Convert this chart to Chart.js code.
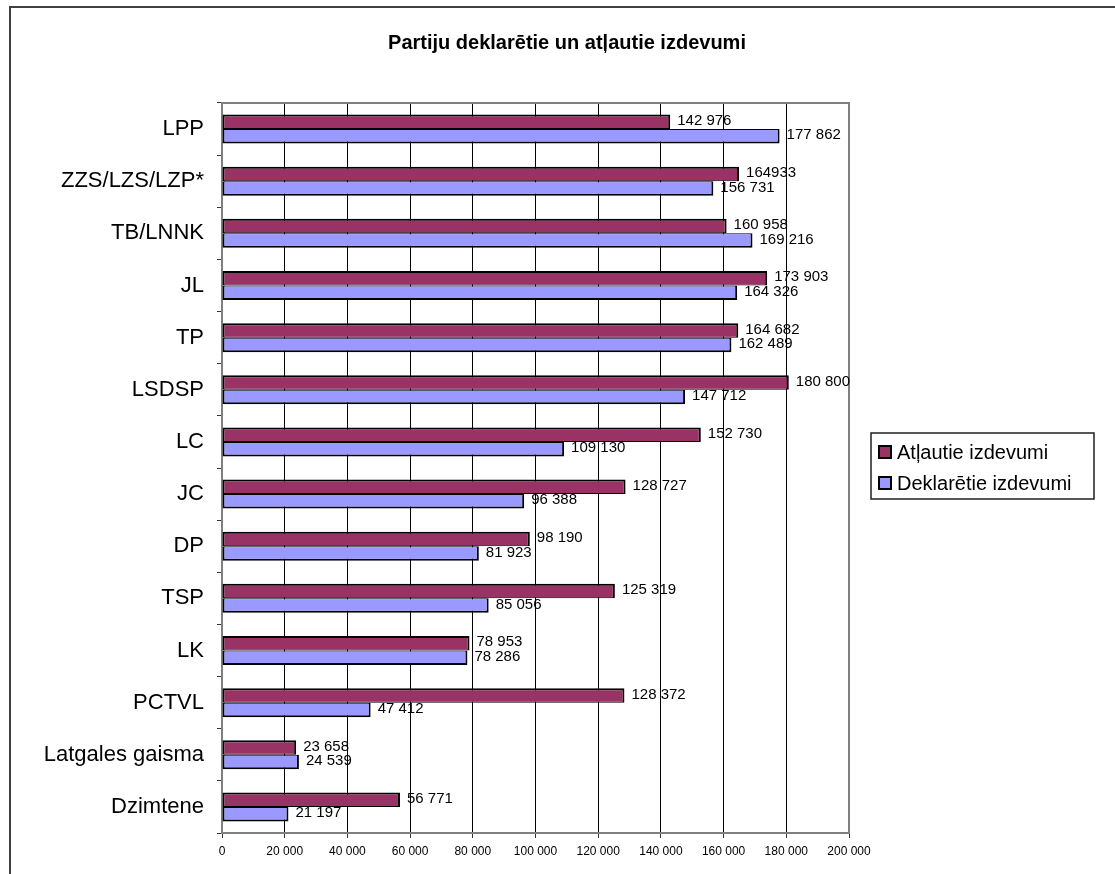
<!DOCTYPE html>
<html>
<head>
<meta charset="utf-8">
<script src="https://cdn.jsdelivr.net/npm/chart.js@4"></script>
<style>
html,body{margin:0;padding:0;background:#fff;overflow:hidden;}
canvas{display:block;}
</style>
</head>
<body>
<canvas id="c" width="1115" height="874"></canvas>
<script>
const categories = ['LPP','ZZS/LZS/LZP*','TB/LNNK','JL','TP','LSDSP','LC','JC','DP','TSP','LK','PCTVL','Latgales gaisma','Dzimtene'];
const allowed = [142976,164933,160958,173903,164682,180800,152730,128727,98190,125319,78953,128372,23658,56771];
const declared = [177862,156731,169216,164326,162489,147712,109130,96388,81923,85056,78286,47412,24539,21197];
const allowedLabels = ['142 976','164933','160 958','173 903','164 682','180 800','152 730','128 727','98 190','125 319','78 953','128 372','23 658','56 771'];
const declaredLabels = ['177 862','156 731','169 216','164 326','162 489','147 712','109 130','96 388','81 923','85 056','78 286','47 412','24 539','21 197'];
const xTickLabels = ['0','20 000','40 000','60 000','80 000','100 000','120 000','140 000','160 000','180 000','200 000'];
const seriesNames = ['Atļautie izdevumi','Deklarētie izdevumi'];
const titleText = 'Partiju deklarētie un atļautie izdevumi';

const FONT = "'Liberation Sans', Arial, sans-serif";
const valueLabels = [allowedLabels, declaredLabels];

const decor = {
  id: 'decor',
  beforeDraw(chart) {
    const ctx = chart.ctx;
    ctx.save();
    ctx.fillStyle = '#fff';
    ctx.fillRect(0, 0, chart.width, chart.height);
    ctx.fillStyle = '#404040';
    ctx.fillRect(9, 6, chart.width, 2);
    ctx.fillRect(9, 6, 2, chart.height);
    ctx.fillStyle = '#000';
    ctx.font = 'bold 20px ' + FONT;
    ctx.textAlign = 'center';
    ctx.textBaseline = 'middle';
    ctx.fillText(titleText, 567, 43);
    ctx.restore();
  },
  beforeDatasetsDraw(chart) {
    const a = chart.chartArea, ctx = chart.ctx;
    ctx.save();
    ctx.strokeStyle = '#808080';
    ctx.lineWidth = 2;
    ctx.strokeRect(a.left, a.top, a.right - a.left, a.bottom - a.top);
    ctx.restore();
  },
  afterDatasetsDraw(chart) {
    const ctx = chart.ctx;
    ctx.save();
    ctx.font = '15px ' + FONT;
    ctx.fillStyle = '#000';
    ctx.textAlign = 'left';
    ctx.textBaseline = 'middle';
    chart.data.datasets.forEach((ds, di) => {
      const meta = chart.getDatasetMeta(di);
      meta.data.forEach((bar, i) => {
        ctx.fillText(valueLabels[di][i], bar.x + 7, bar.y - 1);
      });
    });
    const lx = 871, ly = 433, lw = 223, lh = 66;
    ctx.strokeStyle = '#202020';
    ctx.lineWidth = 1.5;
    ctx.strokeRect(lx, ly, lw, lh);
    ctx.font = '20px ' + FONT;
    const rows = [452, 483];
    chart.data.datasets.forEach((ds, di) => {
      const cy = rows[di];
      ctx.fillStyle = ds.backgroundColor;
      ctx.fillRect(879, cy - 6, 12, 12);
      ctx.strokeStyle = '#000';
      ctx.lineWidth = 2;
      ctx.strokeRect(879, cy - 6, 12, 12);
      ctx.fillStyle = '#000';
      ctx.fillText(ds.label, 897, cy + 1);
    });
    ctx.restore();
  }
};

new Chart(document.getElementById('c'), {
  type: 'bar',
  data: {
    labels: categories,
    datasets: [
      { label: seriesNames[0], data: allowed, backgroundColor: '#993366', borderColor: '#000',
        borderWidth: {left: 2, top: 2, right: 2, bottom: 1}, borderSkipped: false },
      { label: seriesNames[1], data: declared, backgroundColor: '#9999FF', borderColor: '#000',
        borderWidth: {left: 2, top: 1, right: 2, bottom: 2}, borderSkipped: false }
    ]
  },
  options: {
    indexAxis: 'y',
    responsive: false,
    animation: false,
    devicePixelRatio: 1,
    layout: { padding: { top: 103, right: 266, bottom: 0, left: 0 } },
    datasets: { bar: { categoryPercentage: 0.556, barPercentage: 1.0 } },
    plugins: {
      legend: { display: false },
      tooltip: { enabled: false },
      title: { display: false }
    },
    scales: {
      x: {
        min: 0, max: 200000,
        border: { display: false },
        grid: { color: '#000', lineWidth: 1, tickLength: 5, tickColor: '#333', drawTicks: true },
        ticks: {
          stepSize: 20000,
          autoSkip: false,
          maxRotation: 0,
          padding: 6,
          color: '#000',
          font: { family: FONT, size: 12 },
          callback: (v, i) => xTickLabels[i]
        },
        afterFit(s) { s.height = 41; }
      },
      y: {
        border: { display: false },
        grid: { drawOnChartArea: false, drawTicks: true, tickLength: 5, tickColor: '#333', offset: true },
        ticks: {
          padding: 13,
          color: '#000',
          font: { family: FONT, size: 22 },
          autoSkip: false
        },
        afterFit(s) { s.width = 222; }
      }
    }
  },
  plugins: [decor]
});
</script>
</body>
</html>
